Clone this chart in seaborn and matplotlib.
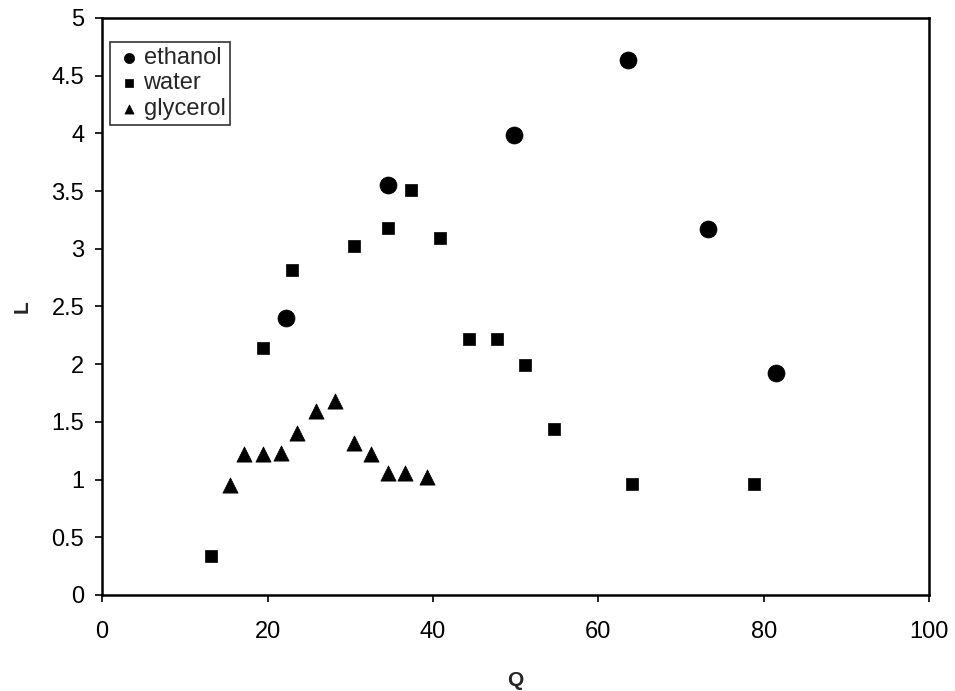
import pandas as pd
import matplotlib
matplotlib.use("Agg")
import matplotlib.pyplot as plt
import seaborn as sns

sns.set_style("white")
plt.rcParams["font.family"] = ["Liberation Sans", "DejaVu Sans"]

# ----- data -----
ethanol_q = [22.2, 34.6, 49.8, 63.6, 73.3, 81.5]
ethanol_l = [2.40, 3.55, 3.99, 4.64, 3.17, 1.92]

water_q = [13.2, 19.5, 23.0, 30.5, 34.6, 37.4, 40.8, 44.3, 47.7, 51.1, 54.6, 64.1, 78.8]
water_l = [0.34, 2.14, 2.82, 3.02, 3.18, 3.51, 3.09, 2.22, 2.22, 1.99, 1.44, 0.96, 0.96]

glycerol_q = [15.4, 17.2, 19.5, 21.6, 23.6, 25.8, 28.2, 30.5, 32.5, 34.6, 36.6, 39.3]
glycerol_l = [0.95, 1.22, 1.22, 1.23, 1.40, 1.59, 1.68, 1.32, 1.22, 1.06, 1.06, 1.02]

series = [
    ("ethanol", ethanol_q, ethanol_l, "o", 150),
    ("water", water_q, water_l, "s", 80),
    ("glycerol", glycerol_q, glycerol_l, "^", 120),
]

fig = plt.figure(figsize=(9.55, 6.91), dpi=100)
ax = fig.add_axes([0.107, 0.139, 0.866, 0.835])

for name, q, l, marker, size in series:
    df = pd.DataFrame({"Q": q, "L": l})
    sns.scatterplot(data=df, x="Q", y="L", marker=marker, s=size,
                    color="black", edgecolor="black", linewidth=0.5,
                    label=name, ax=ax)

ax.set_xlim(0, 100)
ax.set_ylim(0, 5)
ax.set_xticks([0, 20, 40, 60, 80, 100])
ax.set_yticks([0, 0.5, 1, 1.5, 2, 2.5, 3, 3.5, 4, 4.5, 5])
ax.set_yticklabels(["0", "0.5", "1", "1.5", "2", "2.5", "3", "3.5", "4", "4.5", "5"])
ax.tick_params(axis="both", direction="out", length=5, width=1.2,
               labelsize=17, left=True, bottom=True, colors="black")
ax.tick_params(axis="x", pad=14)
ax.tick_params(axis="y", pad=8)
ax.set_xlabel("Q", fontsize=15, fontweight="bold", labelpad=20)
ax.set_ylabel("L", fontsize=15, fontweight="bold", labelpad=14)

for sp in ax.spines.values():
    sp.set_color("black")
    sp.set_linewidth(1.8)

leg = ax.legend(loc="upper left", bbox_to_anchor=(0.01, 0.958), fontsize=17,
                frameon=True, fancybox=False, edgecolor="black",
                handletextpad=0.0, borderpad=0.2, labelspacing=0.15,
                markerscale=0.6, borderaxespad=0.0, handlelength=1.2)
leg.get_frame().set_linewidth(1.2)

fig.savefig("out.png", dpi=100, facecolor="white")
